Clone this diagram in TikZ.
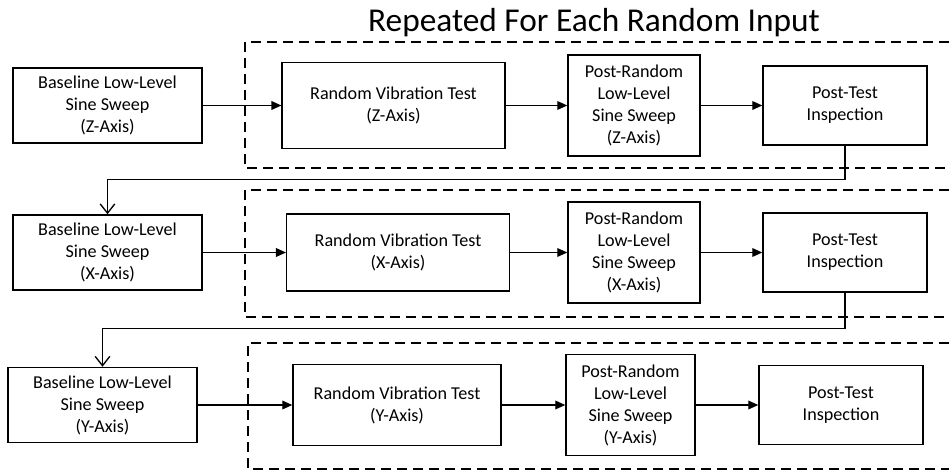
\documentclass[tikz,border=0pt]{standalone}
\usepackage{fontspec}
\setmainfont{Carlito}
\usetikzlibrary{arrows.meta}

\begin{document}
\begin{tikzpicture}[x=0.75pt, y=-0.75pt,
    box/.style={rectangle, draw, line width=1.1pt, align=center, inner sep=0pt, font=\fontsize{13.6}{16.5}\selectfont},
    sweep/.style={box, minimum width=141.75pt, minimum height=56.25pt},
    rvt/.style={box, minimum width=167pt, minimum height=64.5pt},
    post/.style={box, minimum width=99pt, minimum height=75.75pt},
    insp/.style={box, minimum width=123pt, minimum height=59.25pt},
    flow/.style={-{Triangle[length=7.5pt,width=6.5pt]}, line width=1pt},
    back/.style={-{Straight Barb[length=7pt,width=11pt]}, line width=1pt},
    group/.style={dash pattern=on 7.5pt off 4.5pt, line width=1.5pt}]

    \useasboundingbox (0,0) rectangle (949,474);

    \node[font=\fontsize{25}{30}\selectfont, anchor=base] (head) at (594,32) {Repeated For Each Random Input};

    % Z-axis row
    \node[sweep] (BZ) at (107.5,105.5) {Baseline Low-Level\\Sine Sweep\\(Z-Axis)};
    \node[rvt, right of=BZ, node distance=214.5pt] (RZ) {Random Vibration Test\\(Z-Axis)};
    \node[post, right of=RZ, node distance=180.4pt] (PZ) {Post-Random\\Low-Level\\Sine Sweep\\(Z-Axis)};
    \node[insp, right of=PZ, node distance=158.25pt] (TZ) {Post-Test\\Inspection};

    % X-axis row
    \node[sweep] (BX) at (107.5,252.5) {Baseline Low-Level\\Sine Sweep\\(X-Axis)};
    \node[rvt, minimum height=57.75pt, right of=BX, node distance=217.9pt] (RX) {Random Vibration Test\\(X-Axis)};
    \node[post, right of=RX, node distance=177pt] (PX) {Post-Random\\Low-Level\\Sine Sweep\\(X-Axis)};
    \node[insp, right of=PX, node distance=158.25pt] (TX) {Post-Test\\Inspection};

    % Y-axis row
    \node[sweep] (BY) at (102.5,405) {Baseline Low-Level\\Sine Sweep\\(Y-Axis)};
    \node[rvt, minimum width=156pt, minimum height=60.75pt, right of=BY, node distance=220.9pt] (RY) {Random Vibration Test\\(Y-Axis)};
    \node[post, minimum width=96.75pt, right of=RY, node distance=175.1pt] (PY) {Post-Random\\Low-Level\\Sine Sweep\\(Y-Axis)};
    \node[insp, right of=PY, node distance=157.9pt] (TY) {Post-Test\\Inspection};

    % repeated groups
    \draw[group] (949,42) -| (245,168) -- (949,168);
    \draw[group] (949,190) -| (245,317) -- (949,317);
    \draw[group] (949,343) -| (248,469) -- (949,469);

    \draw[flow] (BZ) -- (RZ);
    \draw[flow] (RZ) -- (PZ);
    \draw[flow] (PZ) -- (TZ);
    \draw[flow] (BX) -- (RX);
    \draw[flow] (RX) -- (PX);
    \draw[flow] (PX) -- (TX);
    \draw[flow] (BY) -- (RY);
    \draw[flow] (RY) -- (PY);
    \draw[flow] (PY) -- (TY);

    \draw[back] (TZ.south) -- ++(0,34) -| (BX.north);
    \draw[back] (TX.south) -- ++(0,36) -| (BY.north);
\end{tikzpicture}
\end{document}
